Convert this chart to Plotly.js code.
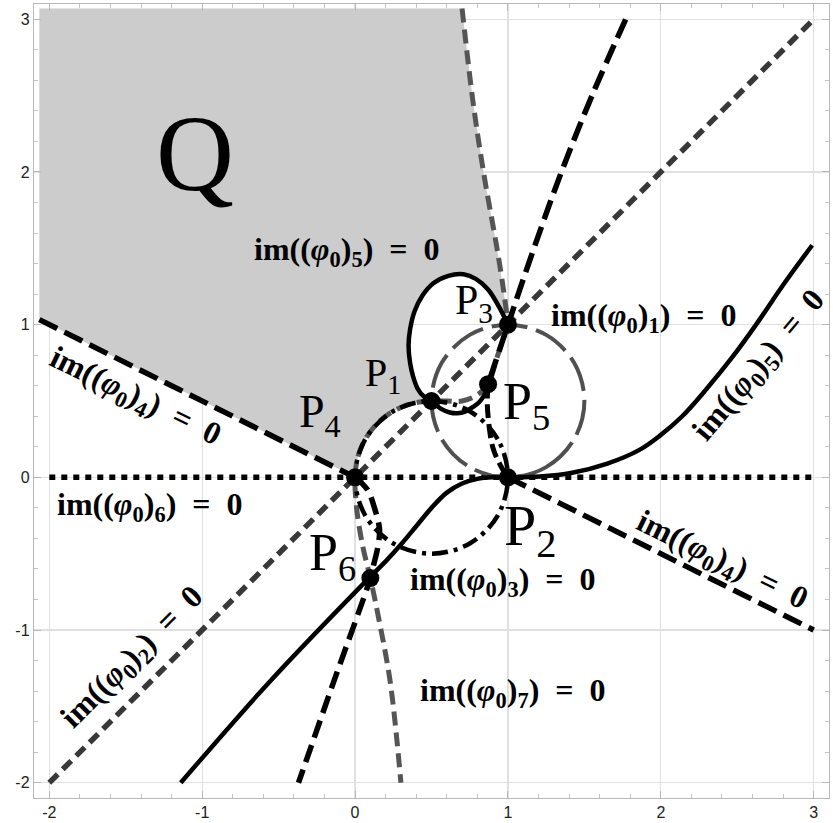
<!DOCTYPE html>
<html>
<head>
<meta charset="utf-8">
<script src="https://cdn.plot.ly/plotly-3.0.1.min.js"></script>
<style>body{margin:0;background:#fff}</style>
</head>
<body>
<div id="chart" style="width:833px;height:823px"></div>
<script>
// shaded region Q (outline)
var qX = [-2.065, -2.065, 0.70, 0.77, 0.84, 0.93, 0.975, 1.0, 0.94, 0.87, 0.79, 0.71, 0.61, 0.51, 0.44, 0.39, 0.36, 0.35, 0.36, 0.38, 0.41, 0.45, 0.5, 0.371, 0.25, 0.146, 0.067, 0.017, 0];
var qY = [1.033, 3.07, 3.07, 2.47, 2.0, 1.49, 1.2, 1.0, 1.12, 1.23, 1.30, 1.33, 1.32, 1.27, 1.19, 1.09, 0.97, 0.86, 0.75, 0.66, 0.58, 0.53, 0.5, 0.483, 0.433, 0.354, 0.25, 0.129, 0];

// straight lines
var diagX = [-2, 3], diagY = [-2, 3];                 // im((φ0)2)=0
var realX = [-2, 3], realY = [0, 0];                  // im((φ0)6)=0
var im4LeftX = [-2.065, 0], im4LeftY = [1.033, 0];
var im4RightX = [1, 3], im4RightY = [0, -1];

// black dashed curves
var im1X = [1.77, 1.55, 1.35, 1.17, 1.0, 0.93, 0.87];
var im1Y = [3.0, 2.5, 2.0, 1.5, 1.0, 0.79, 0.61];
var im1LowX = [0.87, 0.865, 0.87, 0.9, 0.95, 1.0];
var im1LowY = [0.61, 0.5, 0.4, 0.2, 0.08, 0];
var im4LowX = [0, 0.08, 0.13, 0.16, 0.15, 0.12, 0.1, -0.14, -0.37];
var im4LowY = [0, -0.08, -0.21, -0.34, -0.45, -0.58, -0.66, -1.34, -2.0];

// grey dashed curve im((φ0)7)=0
var im7TopX = [0.70, 0.77, 0.84, 0.93, 0.975, 1.0];
var im7TopY = [3.07, 2.47, 2.0, 1.49, 1.2, 1.0];
var im7X = [1.0, 0.93, 0.87, 0.80, 0.70, 0.60, 0.5, 0.371, 0.25, 0.146, 0.067, 0.017, 0, 0.01, 0.05, 0.1, 0.15, 0.23, 0.30];
var im7Y = [1.0, 0.79, 0.61, 0.54, 0.5, 0.5, 0.5, 0.483, 0.433, 0.354, 0.25, 0.129, 0, -0.2, -0.45, -0.66, -0.9, -1.34, -2.0];

// grey long-dashed circle
var ringX = [1, 1.25, 1.433, 1.5, 1.433, 1.25, 1, 0.75, 0.567, 0.5, 0.567, 0.75, 1];
var ringY = [0, 0.067, 0.25, 0.5, 0.75, 0.933, 1, 0.933, 0.75, 0.5, 0.25, 0.067, 0];

// dash-dot circle
var ddX = [1, 0.933, 0.75, 0.5, 0.25, 0.067, 0, 0.067, 0.25, 0.5, 0.75, 0.933, 1];
var ddY = [0, 0.25, 0.433, 0.5, 0.433, 0.25, 0, -0.25, -0.433, -0.5, -0.433, -0.25, 0];

// solid curves
var solidX = [-1.14, -0.56, 0.1, 0.2, 0.3, 0.4, 0.5, 0.6, 0.7, 0.8, 0.9, 1.0, 1.21, 1.42, 1.65, 1.86, 1.99, 2.14, 2.30, 2.47, 2.63, 2.80, 2.99];
var solidY = [-2.0, -1.34, -0.65, -0.55, -0.44, -0.32, -0.2, -0.1, -0.04, -0.01, 0, 0, 0.005, 0.03, 0.09, 0.18, 0.27, 0.40, 0.58, 0.79, 1.01, 1.26, 1.52];
var loopX = [1.0, 0.94, 0.87, 0.79, 0.71, 0.61, 0.51, 0.44, 0.39, 0.36, 0.35, 0.36, 0.38, 0.41, 0.45, 0.5, 0.56, 0.62, 0.67, 0.72, 0.77, 0.81, 0.84, 0.86, 0.87];
var loopY = [1.0, 1.12, 1.23, 1.30, 1.33, 1.32, 1.27, 1.19, 1.09, 0.97, 0.86, 0.75, 0.66, 0.58, 0.53, 0.5, 0.45, 0.425, 0.42, 0.43, 0.46, 0.49, 0.53, 0.57, 0.61];

// points P1..P6
var ptX = [0.5, 1, 1, 0, 0.87, 0.1];
var ptY = [0.5, 0, 1, 0, 0.61, -0.66];

var tickVals = [-2, -1, 0, 1, 2, 3];
var tickText = ['-2', '-1', '0', '1', '2', '3'];

function line(x, y, color, width, dash, shape) {
  return {x: x, y: y, type: 'scatter', mode: 'lines', hoverinfo: 'skip',
          line: {color: color, width: width, dash: dash, shape: shape || 'spline'}};
}

var traces = [
  {x: qX, y: qY, type: 'scatter', mode: 'lines', fill: 'toself', fillcolor: '#cccccc',
   line: {width: 0}, hoverinfo: 'skip'},
  line(diagX, diagY, '#383838', 5.5, '12px,7px', 'linear'),
  line(realX, realY, '#000', 5.5, '6px,6px', 'linear'),
  line(ringX, ringY, '#505050', 4, '36px,9px'),
  line(im7TopX, im7TopY, '#555', 5, '14px,7px'),
  line(im7X, im7Y, '#555', 5, '14px,7px'),
  line(ddX, ddY, '#000', 4.5, '16px,6px,4px,6px'),
  line(im4LeftX, im4LeftY, '#000', 5.5, '20px,8px', 'linear'),
  line(im4RightX, im4RightY, '#000', 5.5, '20px,8px', 'linear'),
  line(im1X, im1Y, '#000', 5.5, '20px,8px'),
  line(im1LowX, im1LowY, '#000', 5, '14px,6px'),
  line(im4LowX, im4LowY, '#000', 5.5, '18px,8px'),
  line(solidX, solidY, '#000', 4.5, 'solid'),
  line(loopX, loopY, '#000', 4.5, 'solid'),
  {x: ptX, y: ptY, type: 'scatter', mode: 'markers', hoverinfo: 'skip',
   marker: {color: '#000', size: 18}}
];

var gap = '\u00a0\u00a0';
function lab(k) {
  return '<b>im((<i>φ</i><sub>0</sub>)<sub>' + k + '</sub>)' + gap + '=' + gap + '0</b>';
}
var serif = 'Liberation Serif, Times New Roman, serif';
function note(x, y, text, size, angle) {
  return {x: x, y: y, xref: 'x', yref: 'y', text: text, showarrow: false,
          xanchor: 'center', yanchor: 'middle', textangle: angle || 0,
          font: {family: serif, size: size, color: '#000'}};
}

var annotations = [
  note(-1.05, 2.12, 'Q', 108),
  note(-0.05, 1.48, lab(5), 32),
  note(1.89, 1.05, lab(1), 32),
  note(-1.34, -0.19, lab(6), 32),
  note(0.97, -0.68, lab(3), 32),
  note(1.03, -1.41, lab(7), 32),
  note(-1.44, 0.52, lab(4), 32, 26),
  note(2.40, -0.55, lab(4), 32, 26),
  note(2.65, 0.73, lab(5), 32, -50),
  note(-1.45, -1.18, lab(2), 32, -45),
  note(0.78, 1.14, 'P<sub>3</sub>', 42),
  note(0.18, 0.67, 'P<sub>1</sub>', 40),
  note(-0.23, 0.41, 'P<sub>4</sub>', 46),
  note(1.12, 0.47, 'P<sub>5</sub>', 52),
  note(1.15, -0.34, 'P<sub>2</sub>', 58),
  note(-0.15, -0.52, 'P<sub>6</sub>', 52)
];

function axis() {
  return {range: [-2.1, 3.1], tickvals: tickVals, ticktext: tickText,
          showgrid: true, gridcolor: '#e0e0e0', gridwidth: 1.2, zeroline: false,
          showline: true, linecolor: '#b8b8b8', linewidth: 1.2, mirror: 'allticks',
          ticks: 'inside', ticklen: 7, tickcolor: '#b8b8b8', tickwidth: 1,
          minor: {ticks: 'inside', ticklen: 4, dtick: 0.2, tickcolor: '#c4c4c4', showgrid: false},
          tickfont: {family: 'Liberation Sans Narrow, Liberation Sans, Arial, sans-serif', size: 16, color: '#222'},
          fixedrange: true};
}

var layout = {
  width: 833, height: 823,
  margin: {l: 34, r: 4, t: 4, b: 25},
  paper_bgcolor: '#fff', plot_bgcolor: '#fff',
  showlegend: false,
  xaxis: axis(),
  yaxis: axis(),
  annotations: annotations
};

Plotly.newPlot('chart', traces, layout, {displayModeBar: false, staticPlot: true});
</script>
</body>
</html>
